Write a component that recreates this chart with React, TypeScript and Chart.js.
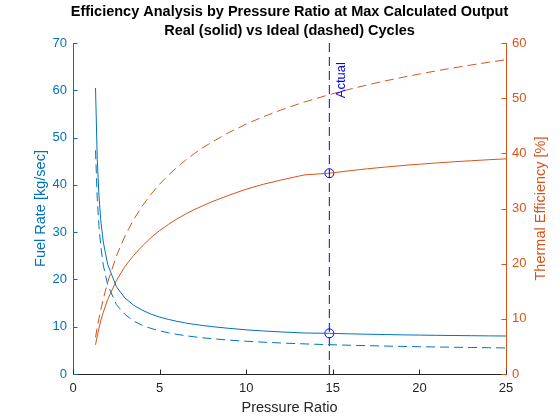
import { useEffect, useRef } from "react"
import { Chart, registerables } from "chart.js"

Chart.register(...registerables)

const FONT = "'Liberation Sans', Arial, Helvetica, sans-serif"
const BLUE = "#0072BD"
const ORANGE = "#D95319"
const MARK = "#0000FF"
const AXIS = "#262626"

// pressure ratio samples
const pressureRatio = [
  1.3, 1.4, 1.5, 1.6, 1.75, 2, 2.5, 3, 3.5, 4, 4.5, 5, 5.5, 6, 6.5, 7, 7.5, 8, 9,
  10, 11, 12, 13, 13.4, 14.8, 16, 17, 18, 19, 20, 21, 22, 23, 24, 25,
]
// fuel rate [kg/sec]
const fuelReal = [
  60.5, 45.4, 37.7, 32.6, 27.9, 23.2, 18.5, 16.05, 14.56, 13.49, 12.67, 12.04,
  11.55, 11.14, 10.79, 10.5, 10.26, 10.03, 9.66, 9.34, 9.1, 8.9, 8.73, 8.67, 8.6,
  8.49, 8.41, 8.35, 8.28, 8.23, 8.18, 8.14, 8.1, 8.06, 8.03,
]
const fuelIdeal = [
  47.3, 37.2, 31.2, 27.1, 23.0, 18.9, 14.7, 12.6, 11.2, 10.3, 9.64, 9.13, 8.72,
  8.38, 8.1, 7.86, 7.65, 7.48, 7.17, 6.93, 6.73, 6.56, 6.42, 6.36, 6.2, 6.08,
  5.99, 5.91, 5.84, 5.77, 5.71, 5.66, 5.61, 5.56, 5.51,
]
// thermal efficiency [%]
const effReal = [
  5.3, 6.9, 8.3, 9.6, 11.2, 13.5, 16.9, 19.5, 21.5, 23.2, 24.7, 26.0, 27.1, 28.1,
  29.0, 29.8, 30.5, 31.2, 32.4, 33.5, 34.4, 35.15, 35.85, 36.1, 36.4, 36.85,
  37.2, 37.5, 37.78, 38.03, 38.26, 38.47, 38.66, 38.84, 39.0,
]
const effIdeal = [
  6.64, 8.44, 10.08, 11.58, 13.64, 16.61, 21.34, 25.01, 27.98, 30.46, 32.57,
  34.41, 36.02, 37.47, 38.76, 39.94, 41.02, 42.0, 43.77, 45.3, 46.65, 47.85,
  48.93, 49.34, 50.64, 51.64, 52.4, 53.11, 53.76, 54.38, 54.96, 55.51, 56.02,
  56.51, 56.97,
]

// operating point
const actualRatio = 14.8
const actualFuel = 8.6
const actualEff = 36.4

const titleLines = [
  "Efficiency Analysis by Pressure Ratio at Max Calculated Output",
  "Real (solid) vs Ideal (dashed) Cycles",
]

const toPoints = (ys: number[]) => pressureRatio.map((x, i) => ({ x, y: ys[i] }))

const overlay = {
  id: "overlay",
  afterDraw(chart: any) {
    const { ctx, chartArea: a, scales } = chart
    const x = scales.x
    const yl = scales.yLeft
    const yr = scales.yRight
    const tick = 4.5
    ctx.save()
    ctx.lineWidth = 1

    // inward ticks
    ctx.strokeStyle = AXIS
    x.ticks.forEach((t: any) => {
      const px = Math.round(x.getPixelForValue(t.value)) + 0.5
      ctx.beginPath()
      ctx.moveTo(px, a.bottom)
      ctx.lineTo(px, a.bottom - tick)
      ctx.stroke()
    })
    ctx.strokeStyle = BLUE
    yl.ticks.forEach((t: any) => {
      const py = Math.round(yl.getPixelForValue(t.value)) + 0.5
      ctx.beginPath()
      ctx.moveTo(a.left, py)
      ctx.lineTo(a.left + tick, py)
      ctx.stroke()
    })
    ctx.strokeStyle = ORANGE
    yr.ticks.forEach((t: any) => {
      const py = Math.round(yr.getPixelForValue(t.value)) + 0.5
      ctx.beginPath()
      ctx.moveTo(a.right, py)
      ctx.lineTo(a.right - tick, py)
      ctx.stroke()
    })

    const midX = (a.left + a.right) / 2
    const midY = (a.top + a.bottom) / 2

    // title
    ctx.fillStyle = "#000000"
    ctx.font = `bold 14.5px ${FONT}`
    ctx.textAlign = "center"
    ctx.textBaseline = "middle"
    ctx.fillText(titleLines[0], midX, 12)
    ctx.fillText(titleLines[1], midX, 31)

    // axis titles
    ctx.font = `14.5px ${FONT}`
    ctx.fillStyle = AXIS
    ctx.fillText("Pressure Ratio", midX, 408)

    ctx.save()
    ctx.translate(40.5, midY)
    ctx.rotate(-Math.PI / 2)
    ctx.fillStyle = BLUE
    ctx.fillText("Fuel Rate [kg/sec]", 0, 0)
    ctx.restore()

    ctx.save()
    ctx.translate(541, midY)
    ctx.rotate(-Math.PI / 2)
    ctx.fillStyle = ORANGE
    ctx.fillText("Thermal Efficiency [%]", 0, 0)
    ctx.restore()

    // "Actual" label next to the marker line
    ctx.save()
    ctx.translate(x.getPixelForValue(actualRatio + 0.7), yr.getPixelForValue(50))
    ctx.rotate(-Math.PI / 2)
    ctx.font = `13px ${FONT}`
    ctx.fillStyle = MARK
    ctx.textAlign = "left"
    ctx.fillText("Actual", 0, 0)
    ctx.restore()

    ctx.restore()
  },
}

export default function App() {
  const chartRef = useRef<HTMLCanvasElement | null>(null)

  useEffect(() => {
    if (!chartRef.current) return
    const ctx = chartRef.current.getContext("2d")
    if (!ctx) return

    const line = (data: any, color: string, axis: string, dashed: boolean) => ({
      data,
      yAxisID: axis,
      borderColor: color,
      borderWidth: 1,
      borderDash: dashed ? [9, 5] : [],
      pointRadius: 0,
      tension: 0,
      fill: false,
    })

    const marker = (y: number, axis: string) => ({
      data: [{ x: actualRatio, y }],
      yAxisID: axis,
      showLine: false,
      pointRadius: 4.5,
      pointBorderWidth: 1,
      pointBorderColor: MARK,
      pointBackgroundColor: "rgba(0,0,0,0)",
    })

    const tickFont = { family: FONT, size: 13 }

    const chart = new Chart(ctx, {
      type: "line",
      data: {
        datasets: [
          line(toPoints(fuelReal), BLUE, "yLeft", false),
          line(toPoints(fuelIdeal), BLUE, "yLeft", true),
          line(
            [
              { x: actualRatio, y: 0 },
              { x: actualRatio, y: 70 },
            ],
            MARK,
            "yLeft",
            true
          ),
          marker(actualFuel, "yLeft"),
          line(toPoints(effReal), ORANGE, "yRight", false),
          line(toPoints(effIdeal), ORANGE, "yRight", true),
          marker(actualEff, "yRight"),
        ],
      },
      options: {
        animation: false,
        responsive: true,
        maintainAspectRatio: false,
        layout: { padding: { top: 43, left: 0, right: 0, bottom: 0 } },
        plugins: {
          legend: { display: false },
          tooltip: { enabled: false },
          title: { display: false },
        },
        scales: {
          x: {
            type: "linear",
            min: 0,
            max: 25,
            grid: { display: false, drawTicks: false },
            border: { display: true, color: AXIS, width: 1 },
            ticks: { stepSize: 5, color: AXIS, padding: 7, font: tickFont },
            afterFit: (s: any) => {
              s.height = 46
            },
          },
          yLeft: {
            type: "linear",
            position: "left",
            min: 0,
            max: 70,
            grid: { display: false, drawTicks: false },
            border: { display: true, color: BLUE, width: 1 },
            ticks: { stepSize: 10, color: BLUE, padding: 6, font: tickFont },
            afterFit: (s: any) => {
              s.width = 73
            },
          },
          yRight: {
            type: "linear",
            position: "right",
            min: 0,
            max: 60,
            grid: { display: false, drawTicks: false },
            border: { display: true, color: ORANGE, width: 1 },
            ticks: { stepSize: 10, color: ORANGE, padding: 6, font: tickFont },
            afterFit: (s: any) => {
              s.width = 54
            },
          },
        },
      },
      plugins: [overlay],
    })

    return () => {
      chart.destroy()
    }
  }, [])

  return (
    <div style={{ position: "fixed", left: 0, top: 0, width: 560, height: 420, background: "#fff" }}>
      <canvas ref={chartRef}></canvas>
    </div>
  )
}
